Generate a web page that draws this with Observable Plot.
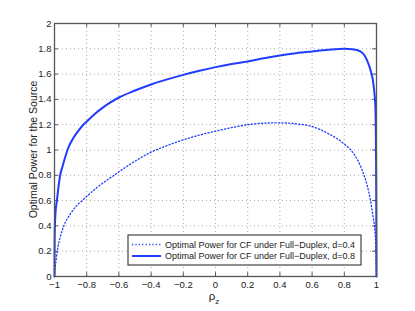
<!DOCTYPE html>
<html>
<head>
<meta charset="utf-8">
<script src="https://cdn.jsdelivr.net/npm/d3@7"></script>
<script src="https://cdn.jsdelivr.net/npm/@observablehq/plot@0.6"></script>
<style>
  html, body { margin: 0; padding: 0; background: #fff; }
  #chart svg { display: block; }
</style>
</head>
<body>
<div id="chart"></div>
<script>
// ---- data ----
const seriesNames = [
  "Optimal Power for CF under Full\u2212Duplex, d=0.4",
  "Optimal Power for CF under Full\u2212Duplex, d=0.8"
];
const rhoD04 = [-1, -0.995, -0.99, -0.983, -0.965, -0.942, -0.901, -0.87, -0.828, -0.734, -0.63, -0.545, -0.4, -0.3, -0.2, -0.1, 0, 0.1, 0.2, 0.3, 0.4, 0.5, 0.6, 0.7, 0.797, 0.859, 0.911, 0.942, 0.963, 0.979, 0.988, 0.995, 1];
const powD04 = [0, 0.08, 0.13, 0.2, 0.31, 0.4, 0.495, 0.55, 0.6, 0.706, 0.8, 0.875, 0.983, 1.035, 1.08, 1.118, 1.149, 1.177, 1.2, 1.212, 1.215, 1.207, 1.186, 1.13, 1.05, 0.97, 0.84, 0.72, 0.6, 0.47, 0.39, 0.25, 0];
const rhoD08 = [-1, -0.9995, -0.998, -0.994, -0.985, -0.975, -0.965, -0.95, -0.932, -0.91, -0.88, -0.85, -0.828, -0.8, -0.75, -0.7, -0.66, -0.6, -0.5, -0.4, -0.3, -0.2, -0.1, 0, 0.1, 0.2, 0.3, 0.4, 0.5, 0.6, 0.7, 0.8, 0.85, 0.9, 0.942, 0.963, 0.983, 0.993, 0.997, 0.999, 1];
const powD08 = [0, 0.2, 0.38, 0.5, 0.6, 0.71, 0.8, 0.87, 0.95, 1.03, 1.10, 1.155, 1.19, 1.225, 1.285, 1.335, 1.37, 1.415, 1.47, 1.518, 1.558, 1.594, 1.626, 1.655, 1.68, 1.70, 1.725, 1.747, 1.765, 1.779, 1.792, 1.80, 1.797, 1.78, 1.707, 1.63, 1.50, 1.34, 1.0, 0.5, 0];
const xTicks = [-1, -0.8, -0.6, -0.4, -0.2, 0, 0.2, 0.4, 0.6, 0.8, 1];
const yTicks = [0, 0.2, 0.4, 0.6, 0.8, 1, 1.2, 1.4, 1.6, 1.8, 2];
const yLabel = "Optimal Power for the Source";

const d04 = rhoD04.map((x, i) => ({x, y: powD04[i]}));
const d08 = rhoD08.map((x, i) => ({x, y: powD08[i]}));

const blue = "#1f3cff";
const axisGray = "#555";
const font = "'Liberation Sans', Arial, Helvetica, sans-serif";
const fmt = d3.format("~g");

const plot = Plot.plot({
  width: 415,
  height: 311,
  marginLeft: 54,
  marginRight: 39,
  marginTop: 23,
  marginBottom: 35,
  style: {fontFamily: font, fontSize: "9.5px", color: "#222", background: "#fff"},
  x: {domain: [-1, 1], ticks: xTicks},
  y: {domain: [0, 2], ticks: yTicks},
  marks: [
    Plot.gridX(xTicks.slice(1, -1), {stroke: "#aaa", strokeOpacity: 1, strokeDasharray: "1,3"}),
    Plot.gridY(yTicks.slice(1, -1), {stroke: "#aaa", strokeOpacity: 1, strokeDasharray: "1,3"}),
    // inward ticks (MATLAB style) on all four sides
    Plot.ruleX(xTicks, {y1: 0, y2: 0.03, stroke: axisGray}),
    Plot.ruleX(xTicks, {y1: 2, y2: 1.97, stroke: axisGray}),
    Plot.ruleY(yTicks, {x1: -1, x2: -0.976, stroke: axisGray}),
    Plot.ruleY(yTicks, {x1: 1, x2: 0.976, stroke: axisGray}),
    Plot.axisX(xTicks, {tickSize: 0, tickPadding: 5, label: null, fontSize: 9.5, tickFormat: fmt}),
    Plot.axisY(yTicks, {tickSize: 0, tickPadding: 3, label: null, fontSize: 9.5, tickFormat: fmt}),
    Plot.line(d04, {x: "x", y: "y", stroke: blue, strokeWidth: 1.3, strokeDasharray: "1.2,2.2", curve: "monotone-x"}),
    Plot.line(d08, {x: "x", y: "y", stroke: blue, strokeWidth: 2, curve: "monotone-x"}),
    Plot.frame({stroke: axisGray, strokeWidth: 1.3})
  ]
});

const svg = d3.select(plot);
const sx = plot.scale("x"), sy = plot.scale("y");

// y-axis label
svg.append("text")
  .attr("transform", `translate(37,${(sy.apply(0) + sy.apply(2)) / 2}) rotate(-90)`)
  .attr("text-anchor", "middle")
  .style("font-family", font).style("font-size", "10.5px").attr("fill", "#222")
  .text(yLabel);

// x-axis label: rho with subscript z
const xl = svg.append("text")
  .attr("x", sx.apply(0) - 1).attr("y", 300)
  .attr("text-anchor", "middle")
  .style("font-family", font).style("font-size", "11.5px").attr("fill", "#222");
xl.append("tspan").text("\u03c1");
xl.append("tspan").attr("dy", 3.5).style("font-size", "8px").text("z");

// legend
const lg = svg.append("g");
lg.append("rect").attr("x", 128).attr("y", 235).attr("width", 233).attr("height", 30)
  .attr("fill", "#fff").attr("stroke", "#444").attr("stroke-width", 1.2);
const rows = [
  {name: seriesNames[0], dash: "1.2,2.2", w: 1.3, y: 244.5},
  {name: seriesNames[1], dash: null, w: 2, y: 256}
];
rows.forEach(r => {
  lg.append("line").attr("x1", 132).attr("x2", 161).attr("y1", r.y).attr("y2", r.y)
    .attr("stroke", blue).attr("stroke-width", r.w).attr("stroke-dasharray", r.dash);
  lg.append("text").attr("x", 165).attr("y", r.y).attr("dy", "0.35em")
    .attr("text-anchor", "start")
    .style("font-family", font).style("font-size", "9px").attr("fill", "#222")
    .text(r.name);
});

document.getElementById("chart").append(plot);
</script>
</body>
</html>
